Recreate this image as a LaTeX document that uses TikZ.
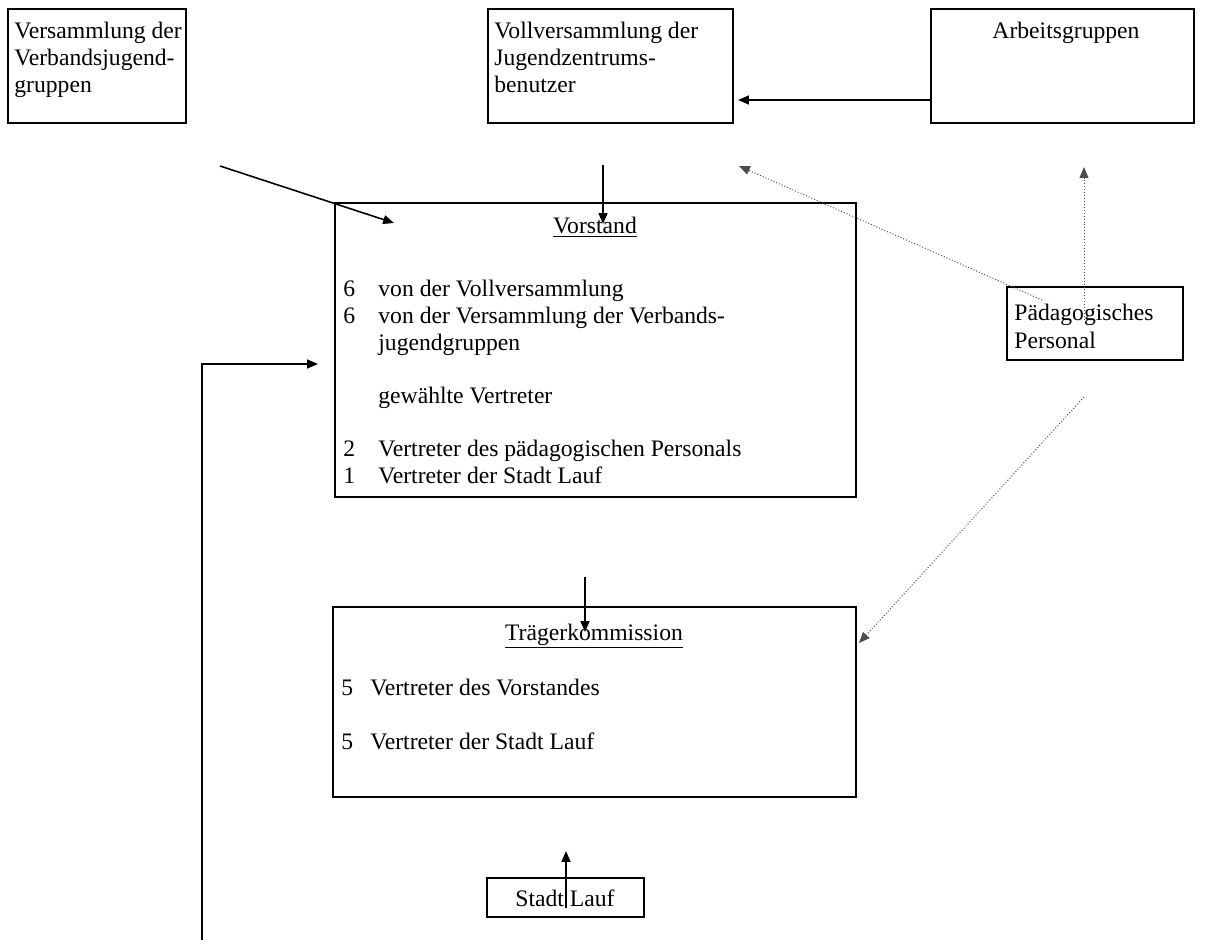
\documentclass[tikz,border=0pt]{standalone}
\usepackage{fontspec}
\setmainfont{Liberation Serif}
\usetikzlibrary{arrows.meta}
\begin{document}
\begin{tikzpicture}[x=0.5076pt,y=-0.5076pt,
  box/.style={draw,line width=1.1pt,inner sep=0pt,outer sep=0pt,anchor=north west},
  sz/.style 2 args={minimum width=#1*0.5076pt,minimum height=#2*0.5076pt},
  txt/.style={anchor=base west,inner sep=0pt,font=\fontsize{12}{13.8}\selectfont},
  ctxt/.style={anchor=base,inner sep=0pt,font=\fontsize{12}{13.8}\selectfont},
  conn/.style={line width=0.8pt,-{Triangle[length=5.5pt,width=4.5pt]}},
  dconn/.style={line width=0.5pt,densely dotted,black!70,-{Triangle[length=5.5pt,width=4.5pt]}}]
\useasboundingbox (0,0) rectangle (1222,945);

% boxes
\node[box,sz={178}{114}] (A) at (8,9) {};
\node[box,sz={245}{114}] (B) at (488,9) {};
\node[box,sz={263}{114}] (C) at (931,9) {};
\node[box,sz={521}{294}] (V) at (335,203) {};
\node[box,sz={523}{190}] (T) at (333,607) {};
\node[box,sz={176}{73}] (P) at (1007,287) {};
\node[box,sz={157}{39}] (S) at (487,878) {};

% texts
\node[txt] (a1t) at (14,38) {Versammlung der};
\node[txt] (a2t) at (14,65) {Verbandsjugend-};
\node[txt] (a3t) at (14,92) {gruppen};
\node[txt] (b1t) at (494,38) {Vollversammlung der};
\node[txt] (b2t) at (494,65) {Jugendzentrums-};
\node[txt] (b3t) at (494,92) {benutzer};
\node[ctxt] (ct) at (1066,38) {Arbeitsgruppen};

\node[ctxt] (vt) at (595,233) {\underline{Vorstand}};
\node[txt] (vn1) at (343,296) {6};
\node[txt] (vl1) at (378,296) {von der Vollversammlung};
\node[txt] (vn2) at (343,323) {6};
\node[txt] (vl2) at (378,323) {von der Versammlung der Verbands-};
\node[txt] (vl3) at (378,350) {jugendgruppen};
\node[txt] (vl4) at (378,403) {gewählte Vertreter};
\node[txt] (vn5) at (343,456) {2};
\node[txt] (vl5) at (378,456) {Vertreter des pädagogischen Personals};
\node[txt] (vn6) at (343,483) {1};
\node[txt] (vl6) at (378,483) {Vertreter der Stadt Lauf};

\node[ctxt] (tt) at (594,640) {\underline{Trägerkommission}};
\node[txt] (tn1) at (341,695) {5};
\node[txt] (tl1) at (370,695) {Vertreter des Vorstandes};
\node[txt] (tn2) at (341,749) {5};
\node[txt] (tl2) at (370,749) {Vertreter der Stadt Lauf};

\node[txt] (p1t) at (1014,320) {Pädagogisches};
\node[txt] (p2t) at (1014,348) {Personal};

\node[ctxt] (st) at (565,906) {Stadt Lauf};

% coordinates
\coordinate (cb) at (738,100);
\coordinate (av1) at (220,166);
\coordinate (av2) at (394,223);
\coordinate (bv1) at (603,165);
\coordinate (bv2) at (603,224);
\coordinate (lb) at (202,940);
\coordinate (lv) at (318,364);
\coordinate (vt1) at (585,577);
\coordinate (vt2) at (585,632);
\coordinate (st1) at (566,908);
\coordinate (st2) at (566,851);
\coordinate (pc1) at (1084,320);
\coordinate (pc2) at (1084,167);
\coordinate (pb1) at (1042,300);
\coordinate (pb2) at (739,166);
\coordinate (pt1) at (1084,397);
\coordinate (pt2) at (859,643);

% connectors
\draw[conn] (C.west |- cb) -- (cb);
\draw[conn] (av1) -- (av2);
\draw[conn] (bv1) -- (bv2);
\draw[conn] (lb) |- (lv);
\draw[conn] (vt1) -- (vt2);
\draw[conn] (st1) -- (st2);
\draw[dconn] (pc1) -- (pc2);
\draw[dconn] (pb1) -- (pb2);
\draw[dconn] (pt1) -- (pt2);
\end{tikzpicture}
\end{document}
